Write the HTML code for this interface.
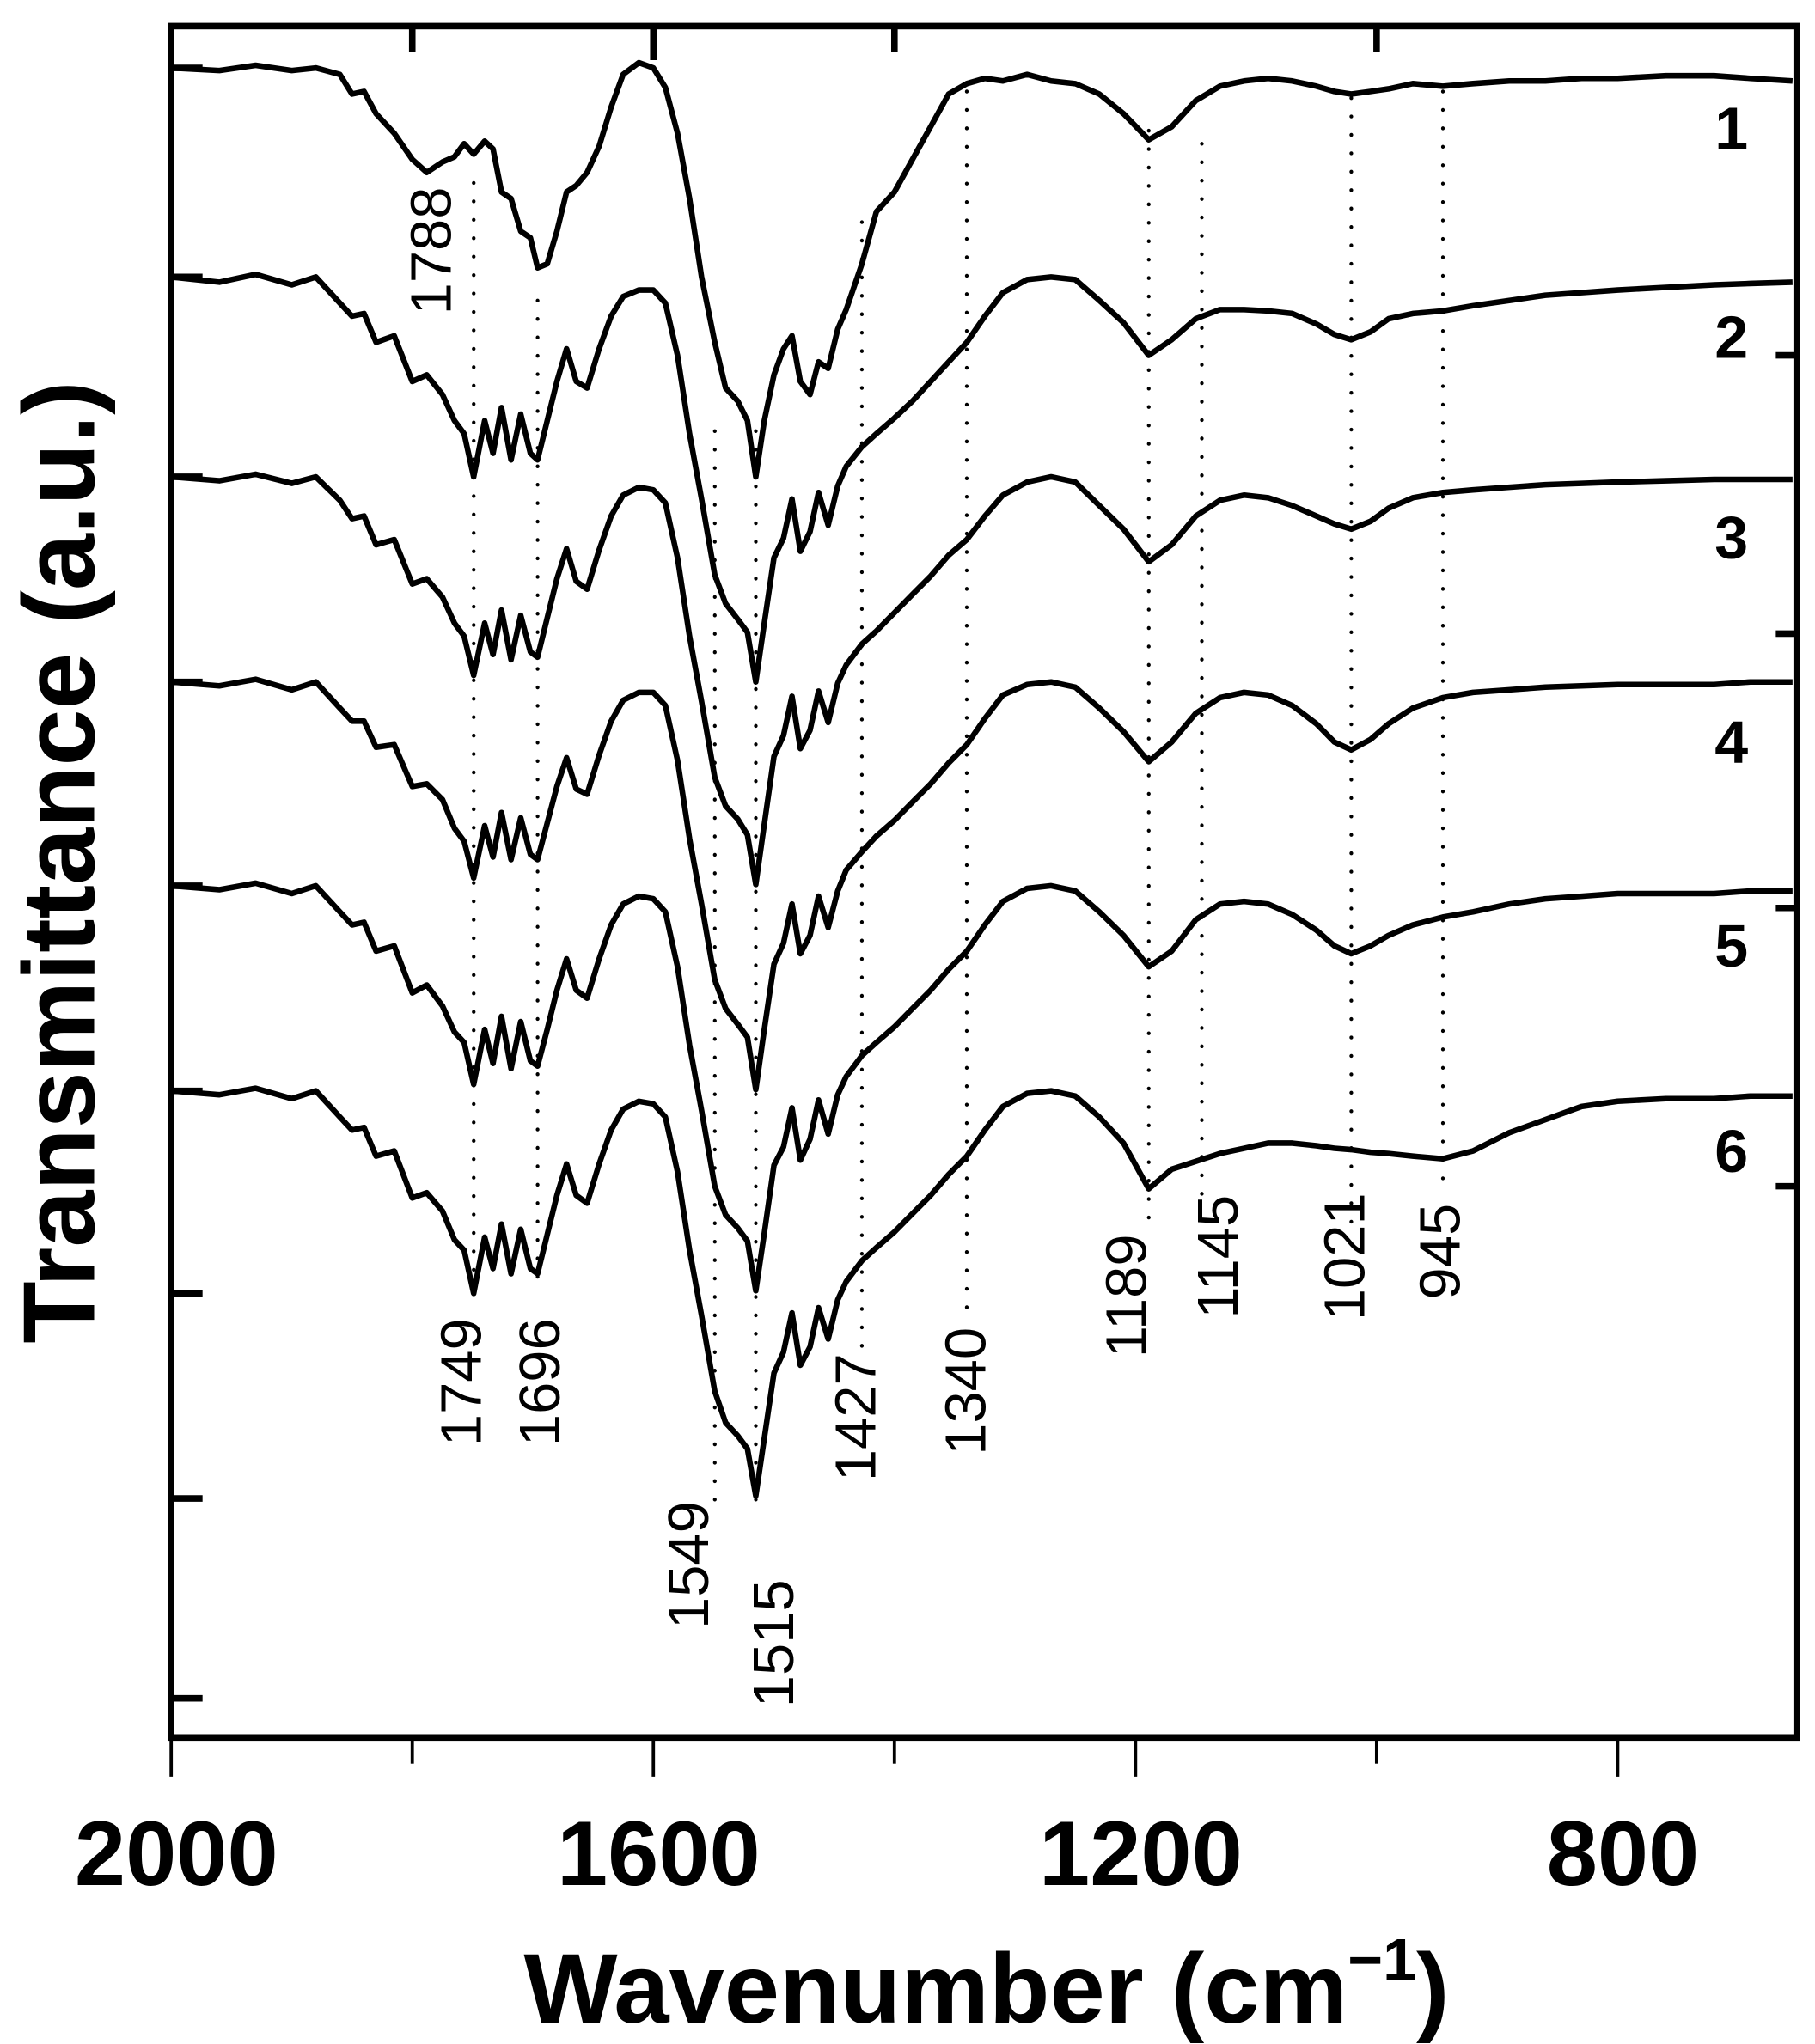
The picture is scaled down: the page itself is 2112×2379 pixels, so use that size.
<!DOCTYPE html>
<html><head><meta charset="utf-8"><style>
html,body{margin:0;padding:0;background:#fff;}
svg{display:block;}
text{font-family:"Liberation Sans",Arial,sans-serif;fill:#000;}
</style></head><body>
<svg id="chart" width="2112" height="2379" viewBox="0 0 1389 1564.6" xmlns="http://www.w3.org/2000/svg">
<g id="axes"></g>
<g id="guides"></g>
<g id="series"></g>
<g id="labels"></g>
</svg>
<script>
const wavenumbers=[2000,1960,1930,1900,1880,1860,1850,1840,1830,1815,1800,1788,1775,1765,1757,1749,1740,1733,1726,1718,1710,1702,1696,1688,1680,1672,1664,1655,1645,1635,1625,1612,1600,1590,1580,1570,1560,1549,1540,1530,1522,1515,1508,1500,1492,1485,1478,1470,1463,1455,1447,1440,1427,1415,1400,1385,1370,1355,1340,1325,1310,1290,1270,1250,1230,1210,1189,1170,1150,1130,1110,1090,1070,1050,1035,1021,1005,990,970,945,920,890,860,830,800,760,720,690,655];
const offsets=[0,1.60,3.13,4.70,6.26,7.83];
const seriesNames=["1","2","3","4","5","6"];
const depth1=[0,2,-2,2,0,5,20,18,35,50,70,80,72,68,58,66,56,62,95,100,125,130,153,150,125,95,90,80,60,30,5,-4,0,15,50,100,160,210,245,255,270,313,270,235,215,205,240,250,225,230,200,185,150,110,95,70,45,20,12,8,10,5,10,12,20,35,55,45,25,14,10,8,10,14,18,20,18,16,12,14,12,10,10,8,8,6,6,8,10];
const depth2=[0,4,-2,6,0,20,30,28,50,45,80,75,90,110,120,153,110,135,100,140,105,135,140,110,80,55,80,85,55,30,15,10,10,20,60,120,170,228,250,262,272,310,265,215,200,170,210,195,165,190,160,145,130,120,108,95,80,65,50,30,12,2,0,2,18,35,60,48,32,25,25,26,28,36,44,48,42,32,28,26,22,18,14,12,10,8,6,5,4];
const depth3=[0,3,-2,5,0,18,32,30,52,48,82,78,92,112,122,152,112,136,102,140,106,134,138,108,78,55,80,86,56,30,14,8,10,20,62,122,172,230,252,262,274,312,266,214,198,168,208,194,164,188,158,144,128,118,104,90,76,60,48,30,14,4,0,4,22,40,65,52,30,18,14,16,22,30,36,40,34,24,16,12,10,8,6,5,4,3,2,2,2];
const depth4=[0,3,-2,6,0,20,30,30,50,48,80,78,90,112,122,150,110,134,100,136,104,132,136,108,80,58,82,86,56,30,14,8,8,18,60,120,170,228,250,262,272,312,266,216,200,170,208,194,164,188,160,144,130,118,106,92,78,62,48,28,10,2,0,4,20,38,61,46,24,12,8,10,18,32,46,52,44,32,20,12,8,6,4,3,2,2,2,0,0];
const depth5=[0,3,-2,6,0,20,30,28,50,46,82,76,92,112,120,152,110,136,100,140,104,134,138,110,80,56,80,86,56,30,14,8,10,20,62,122,172,230,252,262,272,310,266,214,200,170,210,194,164,190,160,146,130,120,108,94,80,64,50,30,12,2,0,4,20,38,62,50,26,14,12,14,22,34,46,52,46,38,30,24,20,14,10,8,6,6,6,4,4];
const depth6=[0,3,-2,6,0,20,30,28,50,46,82,78,92,114,122,155,112,136,102,140,106,136,140,110,80,56,80,86,56,30,14,8,10,20,62,122,172,230,254,264,274,310,266,216,200,170,210,196,166,190,160,146,130,120,108,94,80,64,50,30,12,2,0,4,20,40,75,60,54,48,44,40,40,42,44,45,47,48,50,52,46,32,22,12,8,6,6,4,4];
const depths=[depth1,depth2,depth3,depth4,depth5,depth6];
const xTicksMajor=[2000,1600,1200,800];
const xTicksMinor=[1800,1400,1000];
const peakLabels=["1788","1749","1696","1549","1515","1427","1340","1189","1145","1021","945"];
const peakValues=[1788,1749,1696,1549,1515,1427,1340,1189,1145,1021,945];
const leftTicks=[0,1.6,3.13,4.70,6.26,7.83,9.38,10.95,12.48];
const rightTicks=[2.20,4.33,6.43,8.56];

const NS="http://www.w3.org/2000/svg";
const X0=131,XR=1375,YT=20,YB=1330;
function xs(w){return X0+(2000-w)*0.9225;}
function ys(v){return 52+v*100;}
function el(tag,attrs,parent){const e=document.createElementNS(NS,tag);for(const k in attrs)e.setAttribute(k,attrs[k]);parent.appendChild(e);return e;}
const axes=document.getElementById('axes'),guides=document.getElementById('guides'),series=document.getElementById('series'),labels=document.getElementById('labels');

const fr=el('rect',{x:X0,y:YT,width:XR-X0,height:YB-YT,fill:'none',stroke:'#000','stroke-width':5},axes);


xTicksMajor.forEach(w=>{
  const t=el('line',{x1:xs(w),x2:xs(w),y1:YB,y2:YB+30,stroke:'#000','stroke-width':2.5},axes);
  
  
  const l=el('text',{x:xs(w)+4,y:1443,'text-anchor':'middle','font-size':70,'font-weight':'bold'},axes);
  l.textContent=w;
  
  
});
xTicksMinor.forEach(w=>{
  const t=el('line',{x1:xs(w),x2:xs(w),y1:YB,y2:YB+20,stroke:'#000','stroke-width':2.5},axes);
  
  
  const t2=el('line',{x1:xs(w),x2:xs(w),y1:YT,y2:YT+20,stroke:'#000','stroke-width':5},axes);
  
  
});
const t16=el('line',{x1:xs(1600),x2:xs(1600),y1:YT,y2:YT+26,stroke:'#000','stroke-width':5},axes);


leftTicks.forEach(v=>{
  const t=el('line',{x1:X0,x2:X0+24,y1:ys(v),y2:ys(v),stroke:'#000','stroke-width':5},axes);
  
  
});
rightTicks.forEach(v=>{
  const t=el('line',{x1:XR,x2:XR-16,y1:ys(v),y2:ys(v),stroke:'#000','stroke-width':5},axes);
  
  
});
const xt=el('text',{x:755,y:1548,'text-anchor':'middle','font-size':76,'font-weight':'bold'},axes);
xt.innerHTML='Wavenumber (cm<tspan dy="-32" font-size="46">−1</tspan><tspan dy="32">)</tspan>';


const yt=el('text',{x:0,y:0,'text-anchor':'middle','font-size':78,'font-weight':'bold',transform:'translate(72,660) rotate(-90)'},axes);
yt.textContent='Transmittance (a.u.)';



const guideRanges=[[140,245],[140,1000],[230,990],[330,1150],[330,1150],[170,1040],[70,1010],[100,940],[110,920],[75,945],[70,905]];
peakValues.forEach((w,i)=>{
  if(i===0){return;}
  const g=el('line',{x1:xs(w),x2:xs(w),y1:guideRanges[i][0],y2:guideRanges[i][1],stroke:'#000','stroke-width':2.8,'stroke-dasharray':'0.1 14','stroke-linecap':'round'},guides);
  
  
});

depths.forEach((d,k)=>{
  let p='';
  wavenumbers.forEach((w,i)=>{p+=(i?'L':'M')+xs(w).toFixed(1)+','+ys(offsets[k]+d[i]/100).toFixed(1);});
  const path=el('path',{d:p,fill:'none',stroke:'#000','stroke-width':4.3,'stroke-linejoin':'round'},series);
  
  
  const lab=el('text',{x:1325,y:ys(offsets[k])+62,'text-anchor':'middle','font-size':46,'font-weight':'bold'},labels);
  lab.textContent=seriesNames[k];
  
  
});

const labelPos=[[345,192],[368,1058],[428,1058],[542,1198],[607,1258],[670,1085],[754,1065],[877,992],[947,962],[1044,962],[1117,958]];
peakLabels.forEach((s,i)=>{
  const t=el('text',{x:0,y:0,'text-anchor':'middle','font-size':44,transform:'translate('+labelPos[i][0]+','+labelPos[i][1]+') rotate(-90)'},labels);
  t.textContent=s;
  
  
});
</script>
</body></html>
